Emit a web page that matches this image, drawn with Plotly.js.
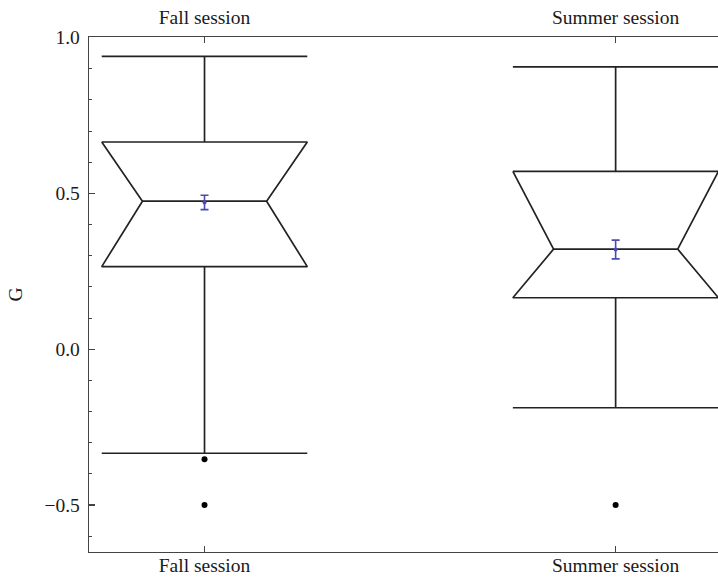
<!DOCTYPE html>
<html>
<head>
<meta charset="utf-8">
<script src="https://cdn.plot.ly/plotly-3.0.1.min.js"></script>
<style>
html,body{margin:0;padding:0;background:#fff;overflow:hidden;}
#chart{width:718px;height:577px;}
</style>
</head>
<body>
<div id="chart"></div>
<script>
// ---- data ----
var categories = ['Fall session', 'Summer session'];
var positions = [1, 2];
var upperWhisker = [0.940, 0.906];
var q3 = [0.665, 0.571];
var median = [0.475, 0.321];
var q1 = [0.265, 0.165];
var lowerWhisker = [-0.334, -0.188];
var outlierCat = [0, 0, 1];
var outlierVal = [-0.353, -0.500, -0.500];
var meanVal = [0.471, 0.320];
var meanErr = [0.023, 0.030];

// ---- styles ----
var halfW = 0.25;     // box half width (x units)
var waistW = 0.151;   // notch waist half width
var lineCol = '#222222';
var axisCol = '#444444';
var meanCol = '#4a4ab0';
var fontFam = '"Liberation Serif", "Times New Roman", Times, serif';
var fontSize = 19.5;

var traces = [];
for (var i = 0; i < categories.length; i++) {
  var c = positions[i];
  var xs = [c - halfW, c + halfW, c + waistW, c + halfW, c - halfW, c - waistW, c - halfW, null,
            c - waistW, c + waistW, null,
            c, c, null, c - halfW, c + halfW, null,
            c, c, null, c - halfW, c + halfW];
  var ys = [q3[i], q3[i], median[i], q1[i], q1[i], median[i], q3[i], null,
            median[i], median[i], null,
            q3[i], upperWhisker[i], null, upperWhisker[i], upperWhisker[i], null,
            q1[i], lowerWhisker[i], null, lowerWhisker[i], lowerWhisker[i]];
  traces.push({
    type: 'scatter', mode: 'lines', x: xs, y: ys,
    line: {color: lineCol, width: 1.7}, hoverinfo: 'skip', showlegend: false,
    connectgaps: false
  });
}
traces.push({
  type: 'scatter', mode: 'markers',
  x: outlierCat.map(function (k) { return positions[k]; }),
  y: outlierVal,
  marker: {color: '#000', size: 6}, showlegend: false
});
traces.push({
  type: 'scatter', mode: 'markers',
  x: positions, y: meanVal,
  marker: {color: meanCol, size: 4},
  error_y: {type: 'data', array: meanErr, visible: true, color: meanCol, thickness: 1.6, width: 4},
  showlegend: false
});
// invisible trace to activate the top axis
traces.push({type: 'scatter', mode: 'markers', x: positions, y: median, xaxis: 'x2',
  marker: {opacity: 0}, hoverinfo: 'skip', showlegend: false});

var tickFont = {family: fontFam, size: fontSize, color: '#1a1a1a'};

var layout = {
  width: 718, height: 577,
  margin: {l: 89, r: 0, t: 37, b: 25, pad: 0},
  paper_bgcolor: '#fff', plot_bgcolor: '#fff',
  showlegend: false,
  xaxis: {
    range: [0.719, 2.249], showgrid: false, zeroline: false,
    showline: true, linecolor: axisCol, linewidth: 1.3,
    tickmode: 'array', tickvals: positions, ticktext: categories,
    ticks: 'inside', ticklen: 6, tickcolor: axisCol, tickwidth: 1.2,
    tickfont: tickFont, ticklabelstandoff: -5
  },
  xaxis2: {
    overlaying: 'x', side: 'top', matches: 'x', range: [0.719, 2.249],
    showgrid: false, zeroline: false,
    showline: true, linecolor: axisCol, linewidth: 1.3,
    tickmode: 'array', tickvals: positions, ticktext: categories,
    ticks: 'inside', ticklen: 6, tickcolor: axisCol, tickwidth: 1.2,
    tickfont: tickFont, ticklabelstandoff: 4
  },
  yaxis: {
    range: [-0.651, 1.002], showgrid: false, zeroline: false,
    showline: true, linecolor: axisCol, linewidth: 1.3,
    tickmode: 'linear', tick0: 0, dtick: 0.5, tickformat: '.1f',
    ticks: 'inside', ticklen: 6, tickcolor: axisCol, tickwidth: 1.2,
    tickfont: tickFont, ticklabelstandoff: 4,
    minor: {dtick: 0.1, tick0: 0, ticks: 'inside', ticklen: 3, tickcolor: axisCol, tickwidth: 1, showgrid: false},
    title: {text: 'G', font: {family: fontFam, size: fontSize, color: '#1a1a1a'}, standoff: 16}
  }
};

Plotly.newPlot('chart', traces, layout, {displayModeBar: false, staticPlot: true});
</script>
</body>
</html>
